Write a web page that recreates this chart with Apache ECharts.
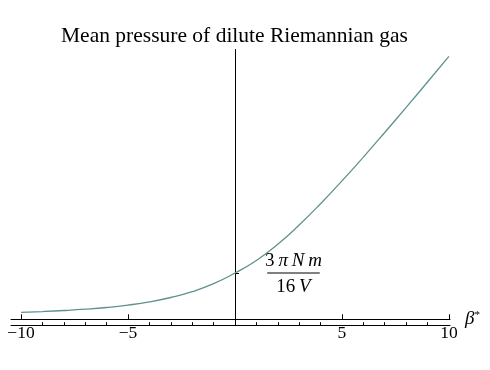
<!DOCTYPE html>
<html>
<head>
<meta charset="utf-8">
<script src="https://cdn.jsdelivr.net/npm/echarts@6/dist/echarts.min.js"></script>
<style>
html,body{margin:0;padding:0;background:#fff;}
#chart{width:490px;height:370px;}
</style>
</head>
<body>
<div id="chart"></div>
<script>
// Data (pressure in units of 3πNm/16V)
var betaValues = [-10,-9,-8,-7,-6,-5,-4,-3,-2,-1,0,1,2,3,4,5,6,7,8,9,10];
var pressureValues = [0.151,0.168,0.190,0.218,0.255,0.307,0.376,0.471,0.596,0.769,1.000,1.270,1.620,2.037,2.497,2.989,3.503,4.035,4.577,5.125,5.680];
var majorTicks = [-10,-5,5,10];
var minorTicks = [-9,-8,-7,-6,-4,-3,-2,-1,1,2,3,4,6,7,8,9];
var yTicks = [1];
var titleText = 'Mean pressure of dilute Riemannian gas';

var serif = '"Liberation Serif", "DejaVu Serif", serif';
var chart = echarts.init(document.getElementById('chart'), null, {renderer:'canvas'});
var xMin = -10.47, xMax = 10.05, yMin = -0.138, yMax = 5.827;

var seriesData = betaValues.map(function(b,i){ return [b, pressureValues[i]]; });

chart.setOption({
  animation:false,
  backgroundColor:'#ffffff',
  title:{
    text:titleText, left:61, top:25, padding:0,
    textStyle:{fontFamily:serif, fontSize:21.5, fontWeight:'normal', color:'#000'}
  },
  grid:{left:11, right:40, top:49.5, bottom:44.3, containLabel:false},
  xAxis:[{
    type:'value', min:xMin, max:xMax, position:'bottom',
    axisLine:{show:true, onZero:true, lineStyle:{color:'#000', width:1}},
    axisTick:{show:true, inside:true, length:5, customValues:majorTicks, lineStyle:{color:'#000'}},
    axisLabel:{show:true, customValues:majorTicks, margin:-1, fontFamily:serif, fontSize:17.5, lineHeight:18, color:'#000',
      formatter:function(v){ return v<0 ? '\u2212'+Math.abs(v) : String(v); }},
    splitLine:{show:false},
    name:'{b|β}{s|*}', nameLocation:'end', nameGap:15,
    nameTextStyle:{rich:{b:{fontFamily:serif, fontStyle:'italic', fontSize:19, color:'#000'},
                         s:{fontFamily:serif, fontSize:11, color:'#000', verticalAlign:'top', padding:[0,0,8,0]}}}
  },{
    type:'value', min:xMin, max:xMax, position:'bottom',
    axisLine:{show:true, onZero:true, lineStyle:{color:'#000', width:1}},
    axisTick:{show:true, inside:true, length:3.5, customValues:minorTicks, lineStyle:{color:'#000'}},
    axisLabel:{show:false},
    splitLine:{show:false}
  }],
  yAxis:{
    type:'value', min:yMin, max:yMax,
    axisLine:{show:true, onZero:true, lineStyle:{color:'#000', width:1}},
    axisTick:{show:true, inside:true, length:4, customValues:yTicks, lineStyle:{color:'#000'}},
    axisLabel:{show:false},
    splitLine:{show:false}
  },
  series:[{
    type:'line', xAxisIndex:0, yAxisIndex:0, data:seriesData, smooth:0.5,
    showSymbol:false, symbol:'none',
    lineStyle:{color:'#5f918e', width:1.3}
  }]
});

// Fraction label 3πNm/16V at the y-axis tick value
var p = chart.convertToPixel({gridIndex:0}, [0, yTicks[0]]);
var cx = p[0] + 58.5, cy = p[1];
chart.setOption({
  graphic:[{
    type:'group', children:[
      {type:'text', x:cx, y:cy-12, style:{
        text:'{r|3\u2009}{i|π\u2009N\u2009m}', textAlign:'center', textVerticalAlign:'middle',
        rich:{r:{fontFamily:serif, fontSize:19, fill:'#000'}, i:{fontFamily:serif, fontStyle:'italic', fontSize:19, fill:'#000'}}
      }},
      {type:'line', shape:{x1:cx-26.3, y1:cy, x2:cx+26.3, y2:cy}, style:{stroke:'#000', lineWidth:1}},
      {type:'text', x:cx, y:cy+14, style:{
        text:'{r|16\u2009}{i|V}', textAlign:'center', textVerticalAlign:'middle',
        rich:{r:{fontFamily:serif, fontSize:19, fill:'#000'}, i:{fontFamily:serif, fontStyle:'italic', fontSize:19, fill:'#000'}}
      }}
    ]
  }]
});
</script>
</body>
</html>
